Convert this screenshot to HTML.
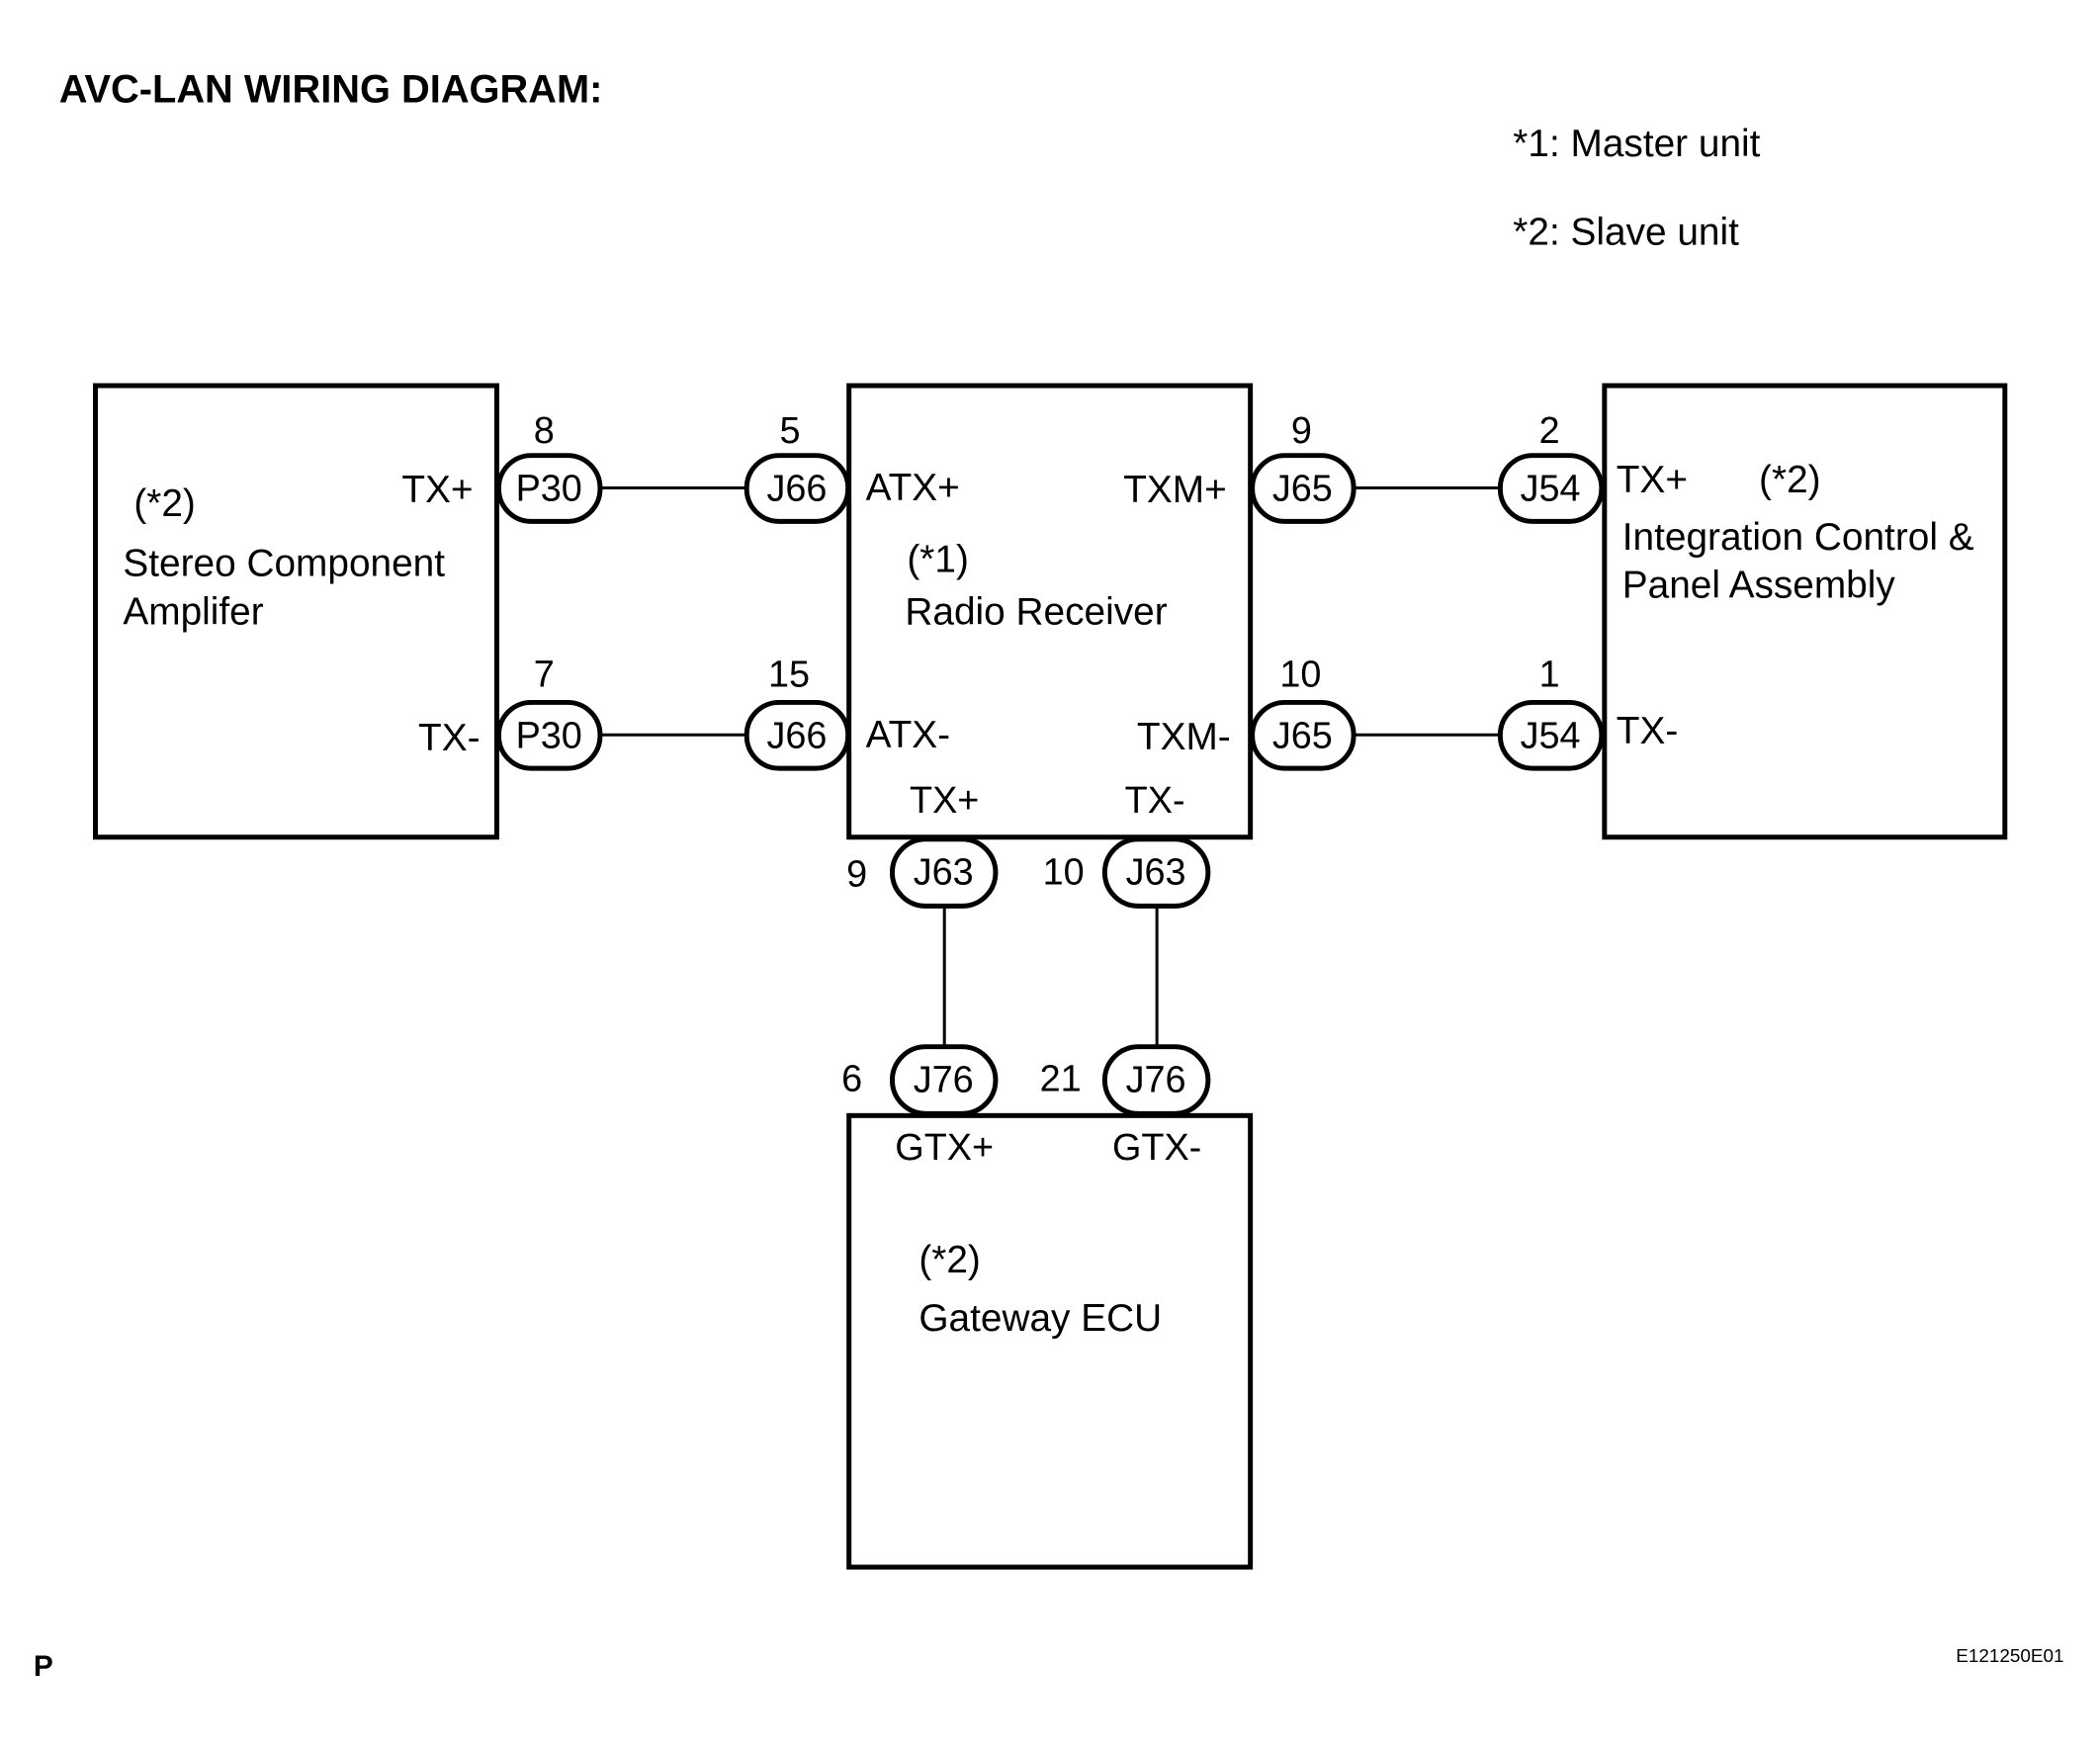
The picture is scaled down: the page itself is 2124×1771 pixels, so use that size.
<!DOCTYPE html>
<html><head><meta charset="utf-8"><style>
html,body{margin:0;padding:0;background:#fff;}
svg{display:block;}
text{font-family:"Liberation Sans",Arial,sans-serif;fill:#000;dominant-baseline:central;}
</style></head><body>
<svg width="2124" height="1771" viewBox="0 0 2124 1771" xmlns="http://www.w3.org/2000/svg">
<g transform="scale(0.995)">
<g fill="none" stroke="#000" stroke-width="5">
<rect x="97" y="392" width="408" height="459"/>
<rect x="863" y="392" width="408" height="459"/>
<rect x="1631" y="392" width="407" height="459"/>
<rect x="863" y="1134" width="408" height="459"/>
</g>
<g stroke="#000" stroke-width="3">
<line x1="610" y1="496" x2="757" y2="496"/>
<line x1="610" y1="747" x2="757" y2="747"/>
<line x1="1376" y1="496" x2="1523" y2="496"/>
<line x1="1376" y1="747" x2="1523" y2="747"/>
<line x1="960" y1="922" x2="960" y2="1063"/>
<line x1="1176" y1="922" x2="1176" y2="1063"/>
</g>
<g fill="#fff" stroke="#000" stroke-width="5">
<rect x="507" y="463" width="103" height="67" rx="33"/>
<rect x="759" y="463" width="103" height="67" rx="33"/>
<rect x="507" y="714" width="103" height="67" rx="33"/>
<rect x="759" y="714" width="103" height="67" rx="33"/>
<rect x="1273" y="463" width="103" height="67" rx="33"/>
<rect x="1525" y="463" width="103" height="67" rx="33"/>
<rect x="1273" y="714" width="103" height="67" rx="33"/>
<rect x="1525" y="714" width="103" height="67" rx="33"/>
<rect x="907" y="853" width="105" height="68" rx="34"/>
<rect x="1123" y="853" width="105" height="68" rx="34"/>
<rect x="907" y="1064" width="105" height="68" rx="34"/>
<rect x="1123" y="1064" width="105" height="68" rx="34"/>
</g>
<g font-size="38" text-anchor="middle">
<text x="558" y="497">P30</text><text x="810" y="497">J66</text>
<text x="558" y="748">P30</text><text x="810" y="748">J66</text>
<text x="1324" y="497">J65</text><text x="1576" y="497">J54</text>
<text x="1324" y="748">J65</text><text x="1576" y="748">J54</text>
<text x="959" y="887">J63</text><text x="1175" y="887">J63</text>
<text x="959" y="1098">J76</text><text x="1175" y="1098">J76</text>
<text x="553" y="438">8</text><text x="803" y="438">5</text>
<text x="553" y="686">7</text><text x="802" y="686">15</text>
<text x="1323" y="438">9</text><text x="1575" y="438">2</text>
<text x="1322" y="686">10</text><text x="1575" y="686">1</text>
<text x="871" y="889">9</text><text x="1081" y="887">10</text>
<text x="866" y="1097">6</text><text x="1078" y="1097">21</text>
<text x="960" y="814">TX+</text><text x="1174" y="814">TX-</text>
<text x="960" y="1167">GTX+</text><text x="1176" y="1167">GTX-</text>
</g>
<g font-size="39">
<text x="60" y="91" font-weight="bold" font-size="40">AVC-LAN WIRING DIAGRAM:</text>
<text x="1538" y="146">*1: Master unit</text>
<text x="1538" y="236">*2: Slave unit</text>
<text x="136" y="512">(*2)</text>
<text x="125" y="573">Stereo Component</text>
<text x="125" y="622">Amplifer</text>
<text x="481" y="498" text-anchor="end">TX+</text>
<text x="488" y="750" text-anchor="end">TX-</text>
<text x="880" y="496">ATX+</text>
<text x="880" y="747">ATX-</text>
<text x="922" y="569">(*1)</text>
<text x="920" y="622">Radio Receiver</text>
<text x="1247" y="498" text-anchor="end">TXM+</text>
<text x="1251" y="749" text-anchor="end">TXM-</text>
<text x="1643" y="488">TX+</text>
<text x="1788" y="488">(*2)</text>
<text x="1649" y="546">Integration Control &amp;</text>
<text x="1649" y="595">Panel Assembly</text>
<text x="1643" y="743">TX-</text>
<text x="934" y="1281">(*2)</text>
<text x="934" y="1340">Gateway ECU</text>
<text x="34" y="1694" font-weight="bold" font-size="30">P</text>
<text x="2098" y="1684" text-anchor="end" font-size="19">E121250E01</text>
</g>
</g>
</svg>
</body></html>
